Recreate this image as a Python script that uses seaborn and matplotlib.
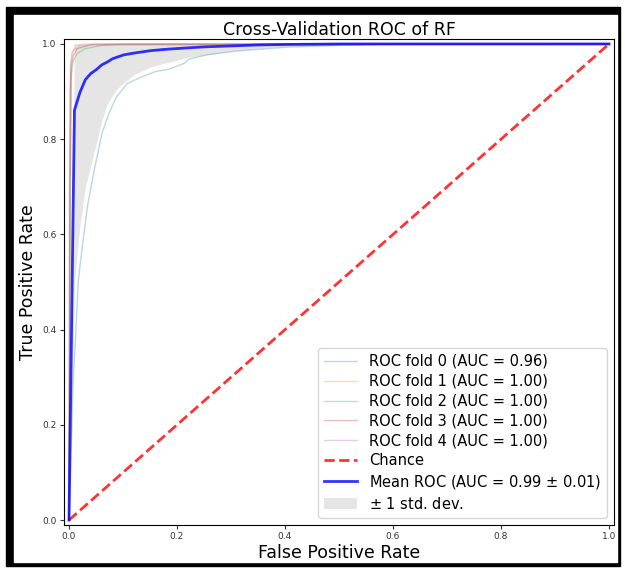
import numpy as np
import pandas as pd
import matplotlib
matplotlib.use('Agg')
import matplotlib.pyplot as plt
from matplotlib.patches import Rectangle
import seaborn as sns

# ROC points of each fold
fold0_fpr = [0.0, 0.004, 0.008, 0.012, 0.017, 0.022, 0.034, 0.048, 0.061, 0.074, 0.088, 0.108,
             0.135, 0.160, 0.185, 0.213, 0.222, 0.255, 0.310, 0.400, 0.500, 0.600, 1.0]
fold0_tpr = [0.0, 0.15, 0.30, 0.38, 0.50, 0.550, 0.658, 0.742, 0.812, 0.854, 0.889, 0.917,
             0.931, 0.942, 0.947, 0.959, 0.968, 0.977, 0.985, 0.993, 0.997, 1.0, 1.0]
fold1_fpr = [0.0, 0.001, 0.002, 0.004, 0.008, 0.012, 0.030, 1.0]
fold1_tpr = [0.0, 0.50, 0.90, 0.960, 0.985, 0.997, 1.0, 1.0]
fold2_fpr = [0.0, 0.002, 0.004, 0.008, 0.015, 0.030, 0.060, 0.100, 1.0]
fold2_tpr = [0.0, 0.60, 0.93, 0.965, 0.980, 0.990, 0.997, 1.0, 1.0]
fold3_fpr = [0.0, 0.001, 0.002, 0.004, 0.008, 0.015, 0.040, 1.0]
fold3_tpr = [0.0, 0.30, 0.70, 0.950, 0.975, 0.990, 0.998, 1.0]
fold4_fpr = [0.0, 0.001, 0.003, 0.006, 0.020, 0.050, 1.0]
fold4_tpr = [0.0, 0.80, 0.96, 0.985, 0.995, 1.0, 1.0]
fold_labels = ['ROC fold 0 (AUC = 0.96)', 'ROC fold 1 (AUC = 1.00)', 'ROC fold 2 (AUC = 1.00)',
               'ROC fold 3 (AUC = 1.00)', 'ROC fold 4 (AUC = 1.00)']

# mean ROC and the +/- 1 std band
mean_fpr = [0.0, 0.0101, 0.0202, 0.0303, 0.0404, 0.0505, 0.0606, 0.0707, 0.0808, 0.0909, 0.1010,
            0.1212, 0.1515, 0.1818, 0.2222, 0.2525, 0.3030, 0.3535, 0.4040, 0.5051, 0.6061, 1.0]
mean_tpr = [0.0, 0.861, 0.898, 0.925, 0.938, 0.946, 0.956, 0.962, 0.969, 0.973, 0.977,
            0.981, 0.986, 0.989, 0.992, 0.994, 0.996, 0.998, 0.999, 1.0, 1.0, 1.0]
tpr_lower = [0.0, 0.50, 0.62, 0.70, 0.745, 0.79, 0.838, 0.873, 0.893, 0.908, 0.918,
             0.936, 0.952, 0.961, 0.972, 0.977, 0.986, 0.991, 0.995, 0.998, 1.0, 1.0]
tpr_upper = [0.0, 1.0, 1.0, 1.0, 1.0, 1.0, 1.0, 1.0, 1.0, 1.0, 1.0,
             1.0, 1.0, 1.0, 1.0, 1.0, 1.0, 1.0, 1.0, 1.0, 1.0, 1.0]

folds = [(fold0_fpr, fold0_tpr), (fold1_fpr, fold1_tpr), (fold2_fpr, fold2_tpr),
         (fold3_fpr, fold3_tpr), (fold4_fpr, fold4_tpr)]

fig = plt.figure(figsize=(6.25, 5.69), dpi=100)
# screenshot frame
fig.patches.append(Rectangle((6/625, 1-566/569), 614/625, 559/569, transform=fig.transFigure,
                             color='black', zorder=-10))
fig.patches.append(Rectangle((14/625, 1-562/569), 603/625, 547/569, transform=fig.transFigure,
                             color='white', zorder=-9))
ax = fig.add_axes([63.6/625, 1-524.8/569, 550.8/625, 485.6/569])

for i, (f, t) in enumerate(folds):
    df = pd.DataFrame({'fpr': f, 'tpr': t})
    sns.lineplot(data=df, x='fpr', y='tpr', sort=False, estimator=None, ax=ax,
                 color='C%d' % i, lw=1, alpha=0.3, label=fold_labels[i])

chance = pd.DataFrame({'fpr': [0, 1], 'tpr': [0, 1]})
sns.lineplot(data=chance, x='fpr', y='tpr', sort=False, estimator=None, ax=ax,
             color='r', lw=2, alpha=0.8, linestyle='--', label='Chance')

mean_df = pd.DataFrame({'fpr': mean_fpr, 'tpr': mean_tpr})
sns.lineplot(data=mean_df, x='fpr', y='tpr', sort=False, estimator=None, ax=ax,
             color='b', lw=2, alpha=0.8, label=r'Mean ROC (AUC = 0.99 $\pm$ 0.01)')
ax.fill_between(mean_fpr, tpr_lower, tpr_upper, color='grey', alpha=0.2, lw=0,
                label=r'$\pm$ 1 std. dev.')

ax.set_xlim(-0.01, 1.01)
ax.set_ylim(-0.01, 1.01)
ax.tick_params(labelsize=6.5, length=3, pad=2, colors='#333333')
ax.set_xlabel('False Positive Rate', fontsize=12.5, labelpad=2)
ax.set_ylabel('True Positive Rate', fontsize=12.5, labelpad=4)
ax.set_title('Cross-Validation ROC of RF', fontsize=12.5, pad=-1)
ax.legend(loc='lower right', fontsize=10.5, labelspacing=0.33, handlelength=2.3,
          borderaxespad=0.5)

plt.savefig('out.png', dpi=100)
